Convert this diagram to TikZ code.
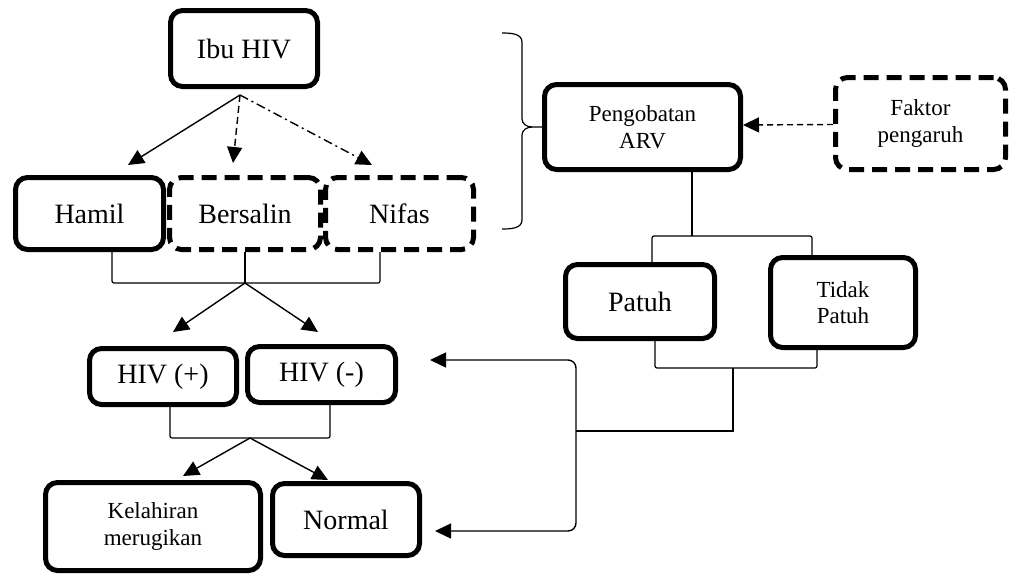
\documentclass[tikz,border=0pt]{standalone}
\usepackage{fontspec}
\setmainfont{Liberation Serif}
\usetikzlibrary{arrows.meta}
\begin{document}
\begin{tikzpicture}[x=1pt,y=-1pt,
  box/.style={draw, line width=5pt, rounded corners=12pt, inner sep=0pt, align=center, font=\fontsize{28}{32}\selectfont},
  dbox/.style={box, dash pattern=on 15pt off 8pt},
  small/.style={font=\fontsize{23}{26.5}\selectfont},
  conn/.style={line width=1.4pt},
  arr/.style={conn, -{Triangle[length=16pt,width=15pt]}},
  brk/.style={line width=1.2pt, rounded corners=2pt},
  bracestyle/.style={line width=1.2pt}]

\useasboundingbox (0,0) rectangle (1010,576);

\node[box, minimum width=147pt, minimum height=76pt] (ibu) at (244,48.5) {Ibu HIV};
\node[box, minimum width=148pt, minimum height=72pt] (hamil) at (89.5,213.5) {Hamil};
\node[dbox, minimum width=151pt, minimum height=72pt] (bersalin) at (245,213.5) {Bersalin};
\node[dbox, minimum width=148pt, minimum height=72pt] (nifas) at (399.5,213.5) {Nifas};
\node[box, small, minimum width=196pt, minimum height=85pt] (peng) at (642.5,127) {Pengobatan\\ARV};
\node[dbox, small, minimum width=170pt, minimum height=92pt] (faktor) at (920.5,123.5) {Faktor\\pengaruh};
\node[box, minimum width=149pt, minimum height=74pt] (patuh) at (640,301.5) {Patuh};
\node[box, small, minimum width=145pt, minimum height=90pt] (tidak) at (843,302.5) {Tidak\\Patuh};
\node[box, minimum width=147pt, minimum height=56pt] (hivp) at (163,376.5) {HIV (+)};
\node[box, minimum width=148pt, minimum height=56pt] (hivn) at (321.5,374.5) {HIV (-)};
\node[box, small, minimum width=215pt, minimum height=88pt] (kel) at (153,526.5) {Kelahiran\\merugikan};
\node[box, minimum width=147pt, minimum height=72pt] (normal) at (346,519.5) {Normal};

% Ibu HIV arrows
\coordinate (ibuO) at ([xshift=-4pt,yshift=-6pt]ibu.south);
\draw[arr] (ibuO) -- ([xshift=38.5pt,yshift=10pt]hamil.north);
\draw[arr, dash pattern=on 7pt off 4pt] (ibuO) -- ([xshift=-12pt,yshift=12pt]bersalin.north);
\draw[arr, dash pattern=on 9pt off 4pt on 2pt off 4pt] (ibuO) -- ([xshift=-27.5pt,yshift=10pt]nifas.north);

% bracket under Hamil/Bersalin/Nifas
\coordinate (j1) at (245,283);
\draw[brk] ([xshift=22.5pt]hamil.south) |- (j1) -| ([xshift=-19.5pt]nifas.south);
\draw[brk] (bersalin.south) -- (j1);
\draw[arr] (j1) -- ([xshift=10pt,yshift=14pt]hivp.north);
\draw[arr] (j1) -- ([xshift=-3.5pt,yshift=12pt]hivn.north);

% bracket under HIV
\coordinate (j2) at (250,438);
\draw[brk] ([xshift=7pt]hivp.south) |- (j2) -| ([xshift=8.5pt]hivn.south);
\draw[arr] (j2) -- ([xshift=30pt,yshift=4pt]kel.north);
\draw[arr] (j2) -- ([xshift=-18pt,yshift=1pt]normal.north);

% brace
\draw[bracestyle] (502,33) to[out=0,in=90] (522,42) -- (522,119) to[out=-90,in=180] (532,127) -- (peng.west);
\draw[bracestyle] (502,229) to[out=0,in=-90] (522,220) -- (522,135) to[out=90,in=180] (532,127);

% Faktor -> Pengobatan
\draw[arr, dash pattern=on 6pt off 4pt] ([yshift=-1pt]faktor.west) -- ([yshift=2pt]peng.east);

% Pengobatan -> Patuh / Tidak Patuh
\coordinate (j3) at (692,236);
\draw[brk] ([xshift=49.5pt]peng.south) -- (j3);
\draw[brk] ([xshift=12pt]patuh.north) |- (j3) -| ([xshift=-31pt]tidak.north);

% Patuh / Tidak Patuh -> back
\coordinate (j4) at (733,368);
\draw[brk] ([xshift=15pt]patuh.south) |- (j4) -| ([xshift=-26pt]tidak.south);
\coordinate (j5) at (576,431);
\draw[conn] (j4) |- (j5);
\coordinate (jt) at (576,360);
\coordinate (jb) at (576,531);
\draw[arr, rounded corners=8pt] (j5) -- (jt) -- ([xshift=32pt,yshift=14.5pt]hivn.east);
\draw[arr, rounded corners=8pt] (j5) -- (jb) -- ([xshift=13pt,yshift=-11.5pt]normal.east);
\end{tikzpicture}
\end{document}
